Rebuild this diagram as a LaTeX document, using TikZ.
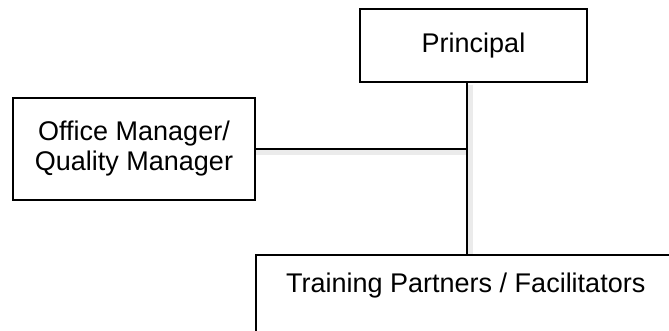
\documentclass[tikz,border=0pt]{standalone}
\usepackage{fontspec}
\setmainfont{Liberation Sans}

\begin{document}
\begin{tikzpicture}[x=1pt, y=-1pt, line width=1.5pt,
                    post box/.style={rectangle,draw,inner sep=0pt,align=center,
                                     font=\fontsize{27}{30}\selectfont},
                    shade line/.style={black!8,line width=5pt}]

  \useasboundingbox (0,0) rectangle (669,331);
  \clip (0,0) rectangle (669,331);

  \node[post box,minimum width=227pt,minimum height=73pt] (principal) at (473.5,45.5) {Principal};
  \node[post box,minimum width=242pt,minimum height=102pt] (office) at (134,149) {Office Manager/\\Quality Manager};
  \node[post box,anchor=north west,minimum width=430pt,text height=38pt,text depth=50pt] (trainers) at (255,254) {\hspace*{-10pt}Training Partners / Facilitators};

  \coordinate (hub) at (467,149);

  % soft shadow under the lines
  \draw[shade line] ([shift={(3,2)}]principal.south -| hub) -- ([shift={(3,0)}]trainers.north -| hub);
  \draw[shade line] ([shift={(0,4)}]office.east) -- ([shift={(0,4)}]hub);

  \draw (principal.south -| hub) -- (trainers.north -| hub);
  \draw (office.east) -- (hub);

\end{tikzpicture}
\end{document}
